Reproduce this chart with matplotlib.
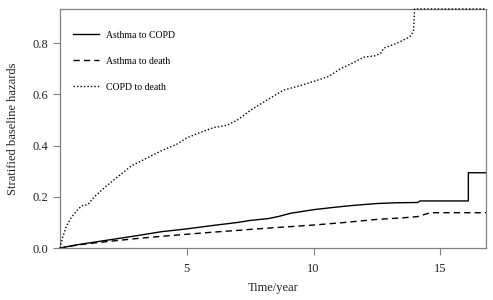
"""
Stratified baseline hazards over time for three transitions.
"""

import matplotlib.pyplot as plt

plt.rcParams["font.family"] = ["Liberation Serif", "DejaVu Serif"]

# Asthma to COPD
t_ac = [0, 0.5, 1, 2, 3, 3.5, 4, 5, 6, 7, 7.5, 8.2, 8.6, 9.1, 10, 10.8, 11.5, 12.5, 13.3, 14.1, 14.2,
        16.1, 16.1, 16.8]
h_ac = [0, 0.01, 0.018, 0.033, 0.048, 0.056, 0.064, 0.075, 0.088, 0.1, 0.108, 0.115, 0.123, 0.136,
        0.15, 0.159, 0.166, 0.174, 0.177, 0.178, 0.184, 0.184, 0.294, 0.294]

# Asthma to death
t_ad = [0, 0.5, 1, 2, 3, 4, 5, 6, 7, 7.5, 8.5, 10, 11, 12.5, 13.5, 14.1, 14.6, 16.8]
h_ad = [0, 0.009, 0.016, 0.027, 0.037, 0.046, 0.054, 0.062, 0.069, 0.073, 0.08, 0.09, 0.098,
        0.112, 0.118, 0.123, 0.138, 0.138]

# COPD to death
t_cd = [0, 0.1, 0.25, 0.45, 0.7, 0.85, 1.1, 1.35, 1.8, 2.3, 2.8, 3.4, 4, 4.6, 5, 5.5, 6.05, 6.6,
        7, 7.5, 8.2, 8.8, 9.5, 10.15, 10.6, 11.06, 11.5, 11.97, 12.4, 12.64, 12.76, 13.3, 13.7,
        13.85, 13.94, 13.98, 16.8]
h_cd = [0, 0.04, 0.085, 0.12, 0.15, 0.165, 0.17, 0.2, 0.24, 0.28, 0.32, 0.35, 0.38, 0.405, 0.43,
        0.45, 0.47, 0.48, 0.5, 0.537, 0.58, 0.616, 0.635, 0.655, 0.67, 0.7, 0.72, 0.745, 0.75,
        0.76, 0.78, 0.80, 0.82, 0.83, 0.85, 0.933, 0.933]

x_ticks = [5, 10, 15]
y_ticks = [0.0, 0.2, 0.4, 0.6, 0.8]


def main():
    fig = plt.figure(figsize=(4.93, 3.00), dpi=100)
    ax = fig.add_axes([0.1217, 0.173, 0.8643, 0.797])

    ax.plot(t_ac, h_ac, color="black", lw=1.0, linestyle="-", label="Asthma to COPD")
    ax.plot(t_ad, h_ad, color="black", lw=1.0, linestyle=(0, (4.5, 3)), label="Asthma to death")
    ax.plot(t_cd, h_cd, color="black", lw=1.0, linestyle=(0, (1, 1.5)), label="COPD to death",
            clip_on=False, zorder=3)

    ax.set_xlim(0, 16.8)
    ax.set_ylim(0, 0.933)
    ax.set_xticks(x_ticks)
    ax.set_yticks(y_ticks)
    ax.set_yticklabels([f"{v:.1f}" for v in y_ticks])

    for s in ax.spines.values():
        s.set_color("#808080")
        s.set_linewidth(0.9)
        s.set_zorder(2)
    ax.tick_params(colors="#808080", labelcolor="#222222", labelsize=9, length=5, width=0.8)
    ax.tick_params(axis="x", pad=6)

    ax.set_xlabel("Time/year", fontsize=9, color="#222222", labelpad=5)
    ax.set_ylabel("Stratified baseline hazards", fontsize=9, color="#222222", labelpad=10)

    ax.legend(loc="upper left", frameon=False, fontsize=7, handlelength=2.6,
              labelspacing=1.75, borderaxespad=1.2, handletextpad=0.7,
              bbox_to_anchor=(-0.005, 0.975))

    fig.savefig("out.png", dpi=100)
    plt.close(fig)


if __name__ == "__main__":
    main()
